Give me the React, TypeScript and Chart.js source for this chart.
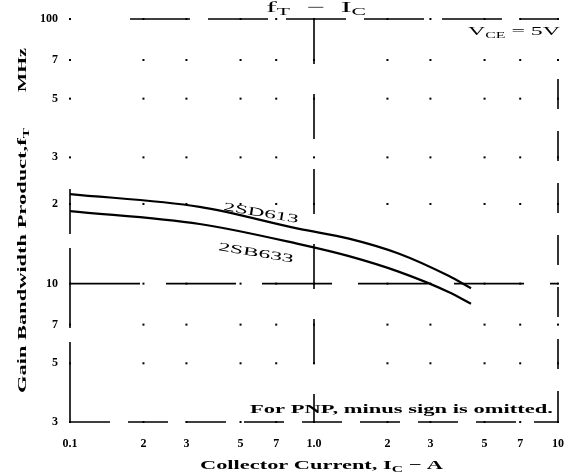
import React, { useEffect, useRef } from "react";
import { Chart, registerables } from "chart.js";

Chart.register(...registerables);

// Collector current (A) sampled along the curves
const currentA = [0.1, 0.34, 0.87, 1.39, 2.22, 3.56, 4.4];
// Gain bandwidth product fT (MHz)
const fT_2SD613 = [21.8, 19.5, 16.1, 14.8, 13.0, 10.7, 9.6];
const fT_2SB633 = [18.8, 16.8, 14.1, 12.7, 11.1, 9.3, 8.4];

const xTicks = [0.1, 0.2, 0.3, 0.5, 0.7, 1, 2, 3, 5, 7, 10];
const xTickLabels = ["0.1", "2", "3", "5", "7", "1.0", "2", "3", "5", "7", "10"];
const yTicks = [3, 5, 7, 10, 20, 30, 50, 70, 100];
const yTickLabels = ["3", "5", "7", "10", "2", "3", "5", "7", "100"];

const SERIF = '"Liberation Serif", "DejaVu Serif", serif';

type Seg = { t: string; size: number; dy?: number };

function drawSegs(ctx: CanvasRenderingContext2D, segs: Seg[], x: number, y: number, width: number, bold = true) {
  let total = 0;
  const widths: number[] = [];
  for (const s of segs) {
    ctx.font = `${bold ? "bold " : ""}${s.size}px ${SERIF}`;
    const w = ctx.measureText(s.t).width;
    widths.push(w);
    total += w;
  }
  const k = width / total;
  ctx.save();
  ctx.translate(x, y);
  ctx.scale(k, 1);
  let cx = 0;
  segs.forEach((s, i) => {
    ctx.font = `${bold ? "bold " : ""}${s.size}px ${SERIF}`;
    ctx.fillText(s.t, cx, s.dy || 0);
    cx += widths[i];
  });
  ctx.restore();
}

const decor = {
  id: "decor",
  beforeDatasetsDraw(chart: any) {
    const { ctx, chartArea } = chart;
    const { left, right, top, bottom } = chartArea;
    const xs = chart.scales.x;
    const ys = chart.scales.y;
    ctx.save();
    ctx.fillStyle = "#000";
    for (const xv of xTicks) {
      for (const yv of yTicks) {
        const px = xs.getPixelForValue(xv);
        const py = ys.getPixelForValue(yv);
        ctx.fillRect(px - 1, py - 1, 2, 2);
      }
    }
    ctx.strokeStyle = "#000";
    ctx.lineWidth = 1.6;
    const line = (x1: number, y1: number, x2: number, y2: number, dash: number[]) => {
      ctx.setLineDash(dash);
      ctx.beginPath();
      ctx.moveTo(x1, y1);
      ctx.lineTo(x2, y2);
      ctx.stroke();
    };
    // frame
    line(left, bottom, left, top + 170, [80, 14]);
    line(left, bottom, right, bottom, [40, 18]);
    line(left + 60, top, right, top, [60, 18]);
    line(right, top + 60, right, bottom, [30, 22]);
    // decade lines
    const y10 = ys.getPixelForValue(10);
    line(left, y10, right, y10, [70, 26]);
    const x1 = xs.getPixelForValue(1);
    line(x1, top, x1, bottom, [45, 30]);
    ctx.restore();
  },
  afterDraw(chart: any) {
    const { ctx } = chart;
    ctx.save();
    ctx.fillStyle = "#000";
    ctx.textBaseline = "alphabetic";
    // Y title
    ctx.save();
    ctx.translate(26, 393);
    ctx.rotate(-Math.PI / 2);
    drawSegs(ctx, [{ t: "Gain Bandwidth Product,f", size: 13 }, { t: "T", size: 9, dy: 3 }], 0, 0, 265);
    ctx.restore();
    ctx.save();
    ctx.translate(26, 92);
    ctx.rotate(-Math.PI / 2);
    drawSegs(ctx, [{ t: "MHz", size: 13 }], 0, 0, 44);
    ctx.restore();
    // X title
    drawSegs(
      ctx,
      [{ t: "Collector Current, I", size: 13 }, { t: "C", size: 9, dy: 3 }, { t: " \u2212 A", size: 13 }],
      200,
      469,
      243
    );
    // note
    drawSegs(ctx, [{ t: "For PNP, minus sign is omitted.", size: 13 }], 250, 413, 303);
    // condition
    drawSegs(
      ctx,
      [{ t: "V", size: 12 }, { t: "CE", size: 8, dy: 3 }, { t: " = 5V", size: 12 }],
      468,
      35,
      92,
      false
    );
    // title (cut off at top)
    drawSegs(
      ctx,
      [{ t: "f", size: 15 }, { t: "T", size: 10, dy: 3 }, { t: "  \u2212  I", size: 15 }, { t: "C", size: 10, dy: 3 }],
      266,
      12,
      100,
      false
    );
    // curve labels
    ctx.save();
    ctx.translate(223, 210);
    ctx.rotate(0.17);
    drawSegs(ctx, [{ t: "2SD613", size: 12 }], 0, 0, 76, false);
    ctx.restore();
    ctx.save();
    ctx.translate(218, 250);
    ctx.rotate(0.17);
    drawSegs(ctx, [{ t: "2SB633", size: 12 }], 0, 0, 76, false);
    ctx.restore();
    ctx.restore();
  },
};

export default function App() {
  const ref = useRef<HTMLCanvasElement | null>(null);
  useEffect(() => {
    document.body.style.margin = "0";
    if (!ref.current) return;
    const mk = (vals: number[]) => currentA.map((x, i) => ({ x, y: vals[i] }));
    const chart = new Chart(ref.current, {
      type: "line",
      data: {
        datasets: [
          {
            label: "2SD613",
            data: mk(fT_2SD613),
            borderColor: "#000",
            borderWidth: 2.2,
            pointRadius: 0,
            cubicInterpolationMode: "monotone",
            fill: false,
          },
          {
            label: "2SB633",
            data: mk(fT_2SB633),
            borderColor: "#000",
            borderWidth: 2.2,
            pointRadius: 0,
            cubicInterpolationMode: "monotone",
            fill: false,
          },
        ],
      },
      options: {
        animation: false,
        responsive: true,
        maintainAspectRatio: false,
        parsing: false,
        layout: { padding: { top: 19, right: 11, left: 0, bottom: 0 } },
        plugins: { legend: { display: false }, tooltip: { enabled: false } },
        scales: {
          x: {
            type: "logarithmic",
            min: 0.1,
            max: 10,
            afterBuildTicks: (s: any) => {
              s.ticks = xTicks.map((v) => ({ value: v }));
            },
            afterFit: (s: any) => {
              s.height = 53;
            },
            grid: { display: false },
            border: { display: false },
            ticks: {
              autoSkip: false,
              maxRotation: 0,
              padding: 7,
              color: "#000",
              font: { family: SERIF, size: 12, weight: "bold" },
              callback: (_v: any, i: number) => xTickLabels[i],
            },
          },
          y: {
            type: "logarithmic",
            min: 3,
            max: 100,
            afterBuildTicks: (s: any) => {
              s.ticks = yTicks.map((v) => ({ value: v }));
            },
            afterFit: (s: any) => {
              s.width = 70;
            },
            grid: { display: false },
            border: { display: false },
            ticks: {
              autoSkip: false,
              padding: 4,
              color: "#000",
              font: { family: SERIF, size: 12, weight: "bold" },
              callback: (_v: any, i: number) => yTickLabels[i],
            },
          },
        },
      } as any,
      plugins: [decor],
    });
    return () => chart.destroy();
  }, []);
  return (
    <div style={{ position: "absolute", left: 0, top: 0, width: 571, height: 475, background: "#fff" }}>
      <canvas ref={ref} />
    </div>
  );
}
